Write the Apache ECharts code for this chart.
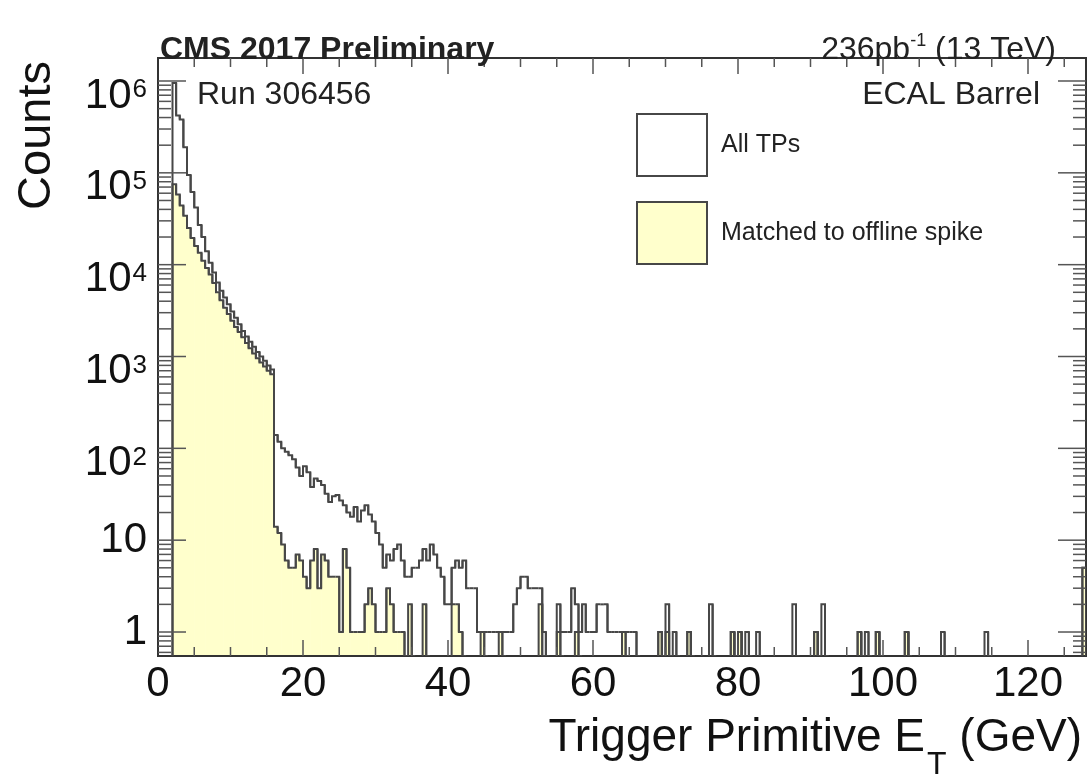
<!DOCTYPE html>
<html>
<head>
<meta charset="utf-8">
<title>ECAL Barrel trigger primitives</title>
<script src="https://cdn.jsdelivr.net/npm/echarts/dist/echarts.min.js"></script>
<style>
  html, body { margin: 0; padding: 0; background: #ffffff; }
  #chart { width: 1088px; height: 783px; }
</style>
</head>
<body>
<div id="chart"></div>
<script>
// Histogram binning: 0.5 GeV bins from 0 to 128 GeV (256 bins)
const BIN_WIDTH = 0.5;
const X_RANGE = [0, 128];
const Y_RANGE = [0.548, 1.78e6];

// Counts per bin, all trigger primitives
const allTPs = [
  // 0 - 8 GeV
  0, 0, 0, 0, 950000, 420000, 380000, 190000, 95000, 62000, 42000, 27000, 20000, 14000, 10500, 8200,
  // 8 - 16 GeV
  6400, 5200, 4400, 3700, 3100, 2650, 2250, 1900, 1650, 1450, 1280, 1120, 1000, 900, 800, 720,
  // 16 - 24 GeV
  140, 118, 100, 92, 84, 76, 62, 50, 64, 55, 38, 47, 44, 40, 32, 26,
  // 24 - 32 GeV
  30, 31, 27, 24, 20, 18, 23, 16, 21, 24, 19, 16, 12, 9, 5, 7,
  // 32 - 40 GeV
  6, 8, 9, 6, 4, 4, 5, 5, 6, 8, 6, 9, 7, 5, 4, 2,
  // 40 - 48 GeV
  2, 5, 6, 5, 6, 3, 3, 3, 1, 1, 1, 1, 1, 1, 1, 1,
  // 48 - 56 GeV
  1, 1, 2, 3, 4, 4, 3, 3, 3, 3, 1, 0, 0, 0, 2, 1,
  // 56 - 64 GeV
  1, 1, 3, 2, 1, 2, 1, 1, 1, 2, 2, 2, 1, 1, 1, 1,
  // 64 - 72 GeV
  1, 1, 1, 1, 0, 0, 0, 0, 0, 0, 1, 0, 2, 0, 1, 0,
  // 72 - 80 GeV
  0, 0, 1, 0, 0, 0, 0, 0, 2, 0, 0, 0, 0, 0, 1, 0,
  // 80 - 88 GeV
  1, 0, 1, 0, 0, 1, 0, 0, 0, 0, 0, 0, 0, 0, 0, 2,
  // 88 - 96 GeV
  0, 0, 0, 0, 0, 1, 0, 2, 0, 0, 0, 0, 0, 0, 0, 0,
  // 96 - 104 GeV
  0, 1, 0, 1, 0, 0, 1, 0, 0, 0, 0, 0, 0, 0, 1, 0,
  // 104 - 112 GeV
  0, 0, 0, 0, 0, 0, 0, 0, 1, 0, 0, 0, 0, 0, 0, 0,
  // 112 - 120 GeV
  0, 0, 0, 0, 1, 0, 0, 0, 0, 0, 0, 0, 0, 0, 0, 0,
  // 120 - 128 GeV
  0, 0, 0, 0, 0, 0, 0, 0, 0, 0, 0, 0, 0, 0, 0, 5
];

// Counts per bin, trigger primitives matched to an offline spike
const matchedToSpike = [
  // 0 - 8 GeV
  0, 0, 0, 0, 75000, 58000, 44000, 34000, 25000, 19500, 16000, 13500, 11000, 9200, 7800, 6300,
  // 8 - 16 GeV
  5000, 4100, 3400, 2900, 2450, 2100, 1850, 1620, 1400, 1230, 1080, 960, 860, 780, 700, 640,
  // 16 - 24 GeV
  14, 12, 9, 6, 5, 5, 7, 6, 4, 3, 6, 8, 3, 7, 6, 4,
  // 24 - 32 GeV
  4, 4, 1, 8, 5, 1, 1, 1, 1, 2, 3, 2, 1, 1, 1, 3,
  // 32 - 40 GeV
  2, 1, 1, 1, 0, 2, 0, 0, 0, 2, 0, 0, 0, 0, 0, 0,
  // 40 - 48 GeV
  0, 2, 2, 1, 0, 0, 0, 0, 0, 1, 0, 0, 0, 0, 1, 0,
  // 48 - 56 GeV
  0, 0, 0, 0, 0, 0, 0, 0, 0, 2, 0, 0, 0, 0, 1, 0,
  // 56 - 64 GeV
  0, 0, 0, 1, 0, 0, 0, 0, 0, 0, 0, 0, 0, 0, 0, 0,
  // 64 - 72 GeV
  1, 0, 0, 0, 0, 0, 0, 0, 0, 0, 1, 0, 1, 0, 0, 0,
  // 72 - 80 GeV
  0, 0, 1, 0, 0, 0, 0, 0, 0, 0, 0, 0, 0, 0, 1, 0,
  // 80 - 88 GeV
  1, 0, 0, 0, 0, 0, 0, 0, 0, 0, 0, 0, 0, 0, 0, 0,
  // 88 - 96 GeV
  0, 0, 0, 0, 0, 1, 0, 0, 0, 0, 0, 0, 0, 0, 0, 0,
  // 96 - 104 GeV
  0, 1, 0, 0, 0, 0, 1, 0, 0, 0, 0, 0, 0, 0, 1, 0,
  // 104 - 112 GeV
  0, 0, 0, 0, 0, 0, 0, 0, 0, 0, 0, 0, 0, 0, 0, 0,
  // 112 - 120 GeV
  0, 0, 0, 0, 0, 0, 0, 0, 0, 0, 0, 0, 0, 0, 0, 0,
  // 120 - 128 GeV
  0, 0, 0, 0, 0, 0, 0, 0, 0, 0, 0, 0, 0, 0, 0, 5
];

const SERIES_NAMES = ['All TPs', 'Matched to offline spike'];
const X_MAJOR_STEP = 20;
const X_MINOR_STEP = 5;

const FONT = '"Liberation Sans", Arial, Helvetica, sans-serif';
const LINE = '#474747';
const FILL = '#ffffcc';
const TICK = '#555555';
const TICK_LEN = { xMajor: 16, xMinor: 9, yMajor: 28, yMinor: 13 };

// [low edge, high edge, count, previous count, next count]
function binItems(counts) {
  return counts.map((c, i) => [
    i * BIN_WIDTH, (i + 1) * BIN_WIDTH, c,
    i > 0 ? counts[i - 1] : 0,
    i < counts.length - 1 ? counts[i + 1] : 0
  ]);
}

// pixel y for a count; empty bins sit on the bottom of the frame
function yPix(api, cs, x, count) {
  const bottom = cs.y + cs.height;
  if (!(count > 0)) return bottom;
  const y = api.coord([x, count])[1];
  return Math.min(Math.max(y, cs.y), bottom);
}

function renderFill(params, api) {
  const x0 = api.value(0), x1 = api.value(1), v = api.value(2);
  const cs = params.coordSys;
  if (!(v > 0)) return { type: 'group', children: [] };
  const bottom = cs.y + cs.height - 1;
  const left = api.coord([x0, v])[0];
  const right = api.coord([x1, v])[0];
  const top = yPix(api, cs, x0, v);
  return {
    type: 'rect',
    shape: { x: left, y: top, width: right - left + 0.6, height: Math.max(bottom - top, 0) },
    style: { fill: FILL }
  };
}

function renderOutline(params, api) {
  const x0 = api.value(0), x1 = api.value(1);
  const v = api.value(2), prev = api.value(3), next = api.value(4);
  const cs = params.coordSys;
  if (!(v > 0) && !(prev > 0)) return { type: 'group', children: [] };
  const xa = api.coord([x0, 1])[0];
  const xb = api.coord([x1, 1])[0];
  const yPrev = yPix(api, cs, x0, prev);
  const yCur = yPix(api, cs, x0, v);
  const yNext = yPix(api, cs, x1, next);
  const pts = [[xa, yPrev], [xa, yCur], [xb, yCur]];
  if (v > 0) pts.push([xb, yNext]);
  return {
    type: 'polyline',
    shape: { points: pts },
    style: { stroke: LINE, lineWidth: 2, fill: null, lineJoin: 'miter' }
  };
}

// frame ticks drawn inside the box on all four sides
// x: major every 20 GeV, minor every 5 GeV; y: decades and 2..9 x 10^k
const xTicks = [];
for (let x = X_RANGE[0] + X_MINOR_STEP; x < X_RANGE[1]; x += X_MINOR_STEP) {
  xTicks.push([x, 1, x % X_MAJOR_STEP === 0 ? 1 : 0]);
}
const yTicks = [];
for (let k = -1; k <= 6; k++) {
  for (let m = 1; m <= 9; m++) {
    const v = m * Math.pow(10, k);
    if (v > Y_RANGE[0] && v < Y_RANGE[1]) yTicks.push([X_RANGE[0], v, m === 1 ? 1 : 0]);
  }
}

function renderXTick(params, api) {
  const cs = params.coordSys;
  const px = api.coord([api.value(0), 1])[0];
  const bottom = cs.y + cs.height;
  const len = api.value(2) ? TICK_LEN.xMajor : TICK_LEN.xMinor;
  return {
    type: 'group',
    children: [
      { type: 'line', shape: { x1: px, y1: bottom, x2: px, y2: bottom - len }, style: { stroke: TICK, lineWidth: 1.5 } },
      { type: 'line', shape: { x1: px, y1: cs.y, x2: px, y2: cs.y + len }, style: { stroke: TICK, lineWidth: 1.5 } }
    ]
  };
}

function renderYTick(params, api) {
  const cs = params.coordSys;
  const py = api.coord([X_RANGE[0], api.value(1)])[1];
  const right = cs.x + cs.width;
  const len = api.value(2) ? TICK_LEN.yMajor : TICK_LEN.yMinor;
  return {
    type: 'group',
    children: [
      { type: 'line', shape: { x1: cs.x, y1: py, x2: cs.x + len, y2: py }, style: { stroke: TICK, lineWidth: 1.5 } },
      { type: 'line', shape: { x1: right, y1: py, x2: right - len, y2: py }, style: { stroke: TICK, lineWidth: 1.5 } }
    ]
  };
}

function yLabel(v) {
  const e = Math.round(Math.log10(v));
  if (e === 0) return '1';
  if (e === 1) return '10';
  return '{b|10}{e|' + e + '}';
}

const chart = echarts.init(document.getElementById('chart'), null, { renderer: 'canvas' });

const xAxisCommon = {
  type: 'value',
  min: X_RANGE[0],
  max: X_RANGE[1],
  interval: X_MAJOR_STEP,
  axisLine: { show: false },
  splitLine: { show: false },
  axisTick: { show: false }
};
const yAxisCommon = {
  type: 'log',
  logBase: 10,
  min: Y_RANGE[0],
  max: Y_RANGE[1],
  axisLine: { show: false },
  splitLine: { show: false },
  axisTick: { show: false }
};

chart.setOption({
  animation: false,
  backgroundColor: '#ffffff',
  textStyle: { fontFamily: FONT },
  grid: {
    left: 158, top: 58, width: 928, height: 598,
    show: true, borderColor: '#333333', borderWidth: 2, backgroundColor: 'transparent',
    containLabel: false
  },
  legend: {
    orient: 'vertical',
    left: 636,
    top: 113,
    padding: 0,
    itemWidth: 70,
    itemHeight: 62,
    itemGap: 24,
    icon: 'rect',
    selectedMode: false,
    textStyle: { fontSize: 25, color: '#222222', fontFamily: FONT, padding: [0, 0, 0, 9] },
    data: [
      { name: SERIES_NAMES[0], itemStyle: { color: '#ffffff', borderColor: LINE, borderWidth: 2 } },
      { name: SERIES_NAMES[1], itemStyle: { color: FILL, borderColor: LINE, borderWidth: 2 } }
    ]
  },
  xAxis: [
    Object.assign({}, xAxisCommon, {
      position: 'bottom',
      axisLabel: { show: true, fontSize: 42, color: '#111111', fontFamily: FONT, margin: 7, showMaxLabel: false }
    }),
    Object.assign({}, xAxisCommon, { position: 'top', axisLabel: { show: false } })
  ],
  yAxis: [
    Object.assign({}, yAxisCommon, {
      position: 'left',
      axisLabel: {
        show: true, fontSize: 42, color: '#111111', fontFamily: FONT, margin: 11,
        showMinLabel: false, showMaxLabel: false,
        formatter: yLabel,
        rich: {
          b: { fontSize: 42, color: '#111111', fontFamily: FONT, padding: [30, 0, 0, 0] },
          e: { fontSize: 26, color: '#111111', fontFamily: FONT, padding: [18, 0, 0, 1] }
        }
      }
    }),
    Object.assign({}, yAxisCommon, { position: 'right', axisLabel: { show: false } })
  ],
  series: [
    {
      name: SERIES_NAMES[1],
      type: 'custom',
      coordinateSystem: 'cartesian2d',
      renderItem: renderFill,
      data: binItems(matchedToSpike),
      encode: { x: [0, 1], y: 2 },
      itemStyle: { color: FILL },
      clip: true,
      silent: true,
      z: 2
    },
    {
      name: SERIES_NAMES[1],
      type: 'custom',
      coordinateSystem: 'cartesian2d',
      renderItem: renderOutline,
      data: binItems(matchedToSpike),
      encode: { x: [0, 1], y: 2 },
      itemStyle: { color: FILL },
      clip: true,
      silent: true,
      z: 3
    },
    {
      name: SERIES_NAMES[0],
      type: 'custom',
      coordinateSystem: 'cartesian2d',
      renderItem: renderOutline,
      data: binItems(allTPs),
      encode: { x: [0, 1], y: 2 },
      itemStyle: { color: '#ffffff' },
      clip: true,
      silent: true,
      z: 4
    },
    {
      type: 'custom',
      coordinateSystem: 'cartesian2d',
      renderItem: renderXTick,
      data: xTicks,
      encode: { x: 0, y: 1 },
      silent: true,
      z: 10
    },
    {
      type: 'custom',
      coordinateSystem: 'cartesian2d',
      renderItem: renderYTick,
      data: yTicks,
      encode: { x: 0, y: 1 },
      silent: true,
      z: 10
    }
  ],
  graphic: [
    {
      type: 'text', x: 160, y: 50, z: 20,
      style: { text: 'CMS 2017 Preliminary', fontSize: 32, fontWeight: 'bold', fontFamily: FONT, fill: '#222222', align: 'left', verticalAlign: 'middle' }
    },
    {
      type: 'text', x: 1056, y: 50, z: 20,
      style: {
        text: '{n|236pb}{s|-1}{n| (13 TeV)}',
        align: 'right', verticalAlign: 'middle',
        rich: {
          n: { fontSize: 32, fontFamily: FONT, fill: '#222222', color: '#222222' },
          s: { fontSize: 18, fontFamily: FONT, fill: '#222222', color: '#222222', padding: [0, 0, 18, 0] }
        }
      }
    },
    {
      type: 'text', x: 197, y: 95, z: 20,
      style: { text: 'Run 306456', fontSize: 32, fontFamily: FONT, fill: '#222222', align: 'left', verticalAlign: 'middle' }
    },
    {
      type: 'text', x: 1040, y: 95, z: 20,
      style: { text: 'ECAL Barrel', fontSize: 32, fontFamily: FONT, fill: '#222222', align: 'right', verticalAlign: 'middle' }
    },
    {
      type: 'text', x: 37, y: 61, rotation: Math.PI / 2, z: 20,
      style: { text: 'Counts', fontSize: 47, fontFamily: FONT, fill: '#111111', align: 'right', verticalAlign: 'middle' }
    },
    {
      type: 'text', x: 1082, y: 738, z: 20,
      style: {
        text: '{n|Trigger Primitive E}{t|T}{n| (GeV)}',
        align: 'right', verticalAlign: 'middle',
        rich: {
          n: { fontSize: 46, fontFamily: FONT, fill: '#111111', color: '#111111' },
          t: { fontSize: 32, fontFamily: FONT, fill: '#111111', color: '#111111', padding: [54, 0, 0, 2] }
        }
      }
    }
  ]
});
</script>
</body>
</html>
